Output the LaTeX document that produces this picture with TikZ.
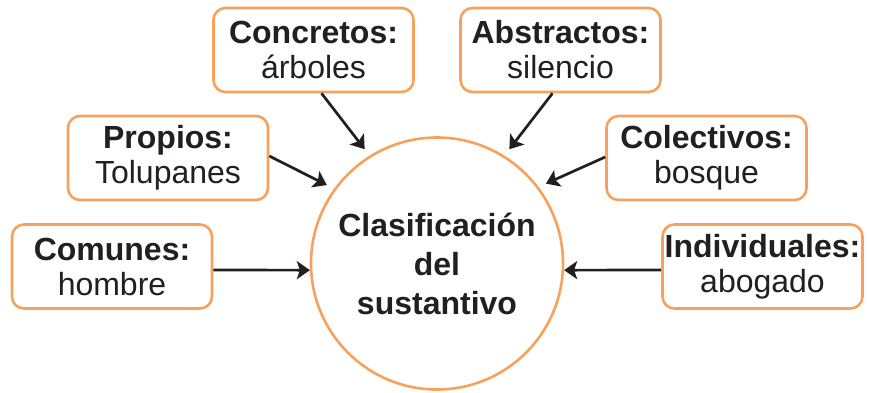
\documentclass[tikz,border=0pt]{standalone}
\usepackage{fontspec}
\setmainfont{Liberation Sans}
\usetikzlibrary{arrows.meta}
\definecolor{naranja}{RGB}{248,161,92}
\definecolor{texto}{RGB}{35,31,32}

\begin{document}
\begin{tikzpicture}[
    x=0.5pt, y=-0.5pt,
    caja/.style={draw=naranja, line width=1.3pt, rounded corners=6pt, fill=white, align=center, minimum width=100pt, minimum height=42pt, inner xsep=1pt, text=texto, font=\fontsize{16}{17.5}\selectfont},
    centro/.style={draw=naranja, line width=1.3pt, circle, minimum size=126pt, align=center, text=texto, font=\fontsize{16}{19.5}\selectfont\bfseries},
    flecha/.style={draw=texto, line width=1.35pt, -{Stealth[length=6.5pt, width=9pt, inset=1.5pt]}}
]
\useasboundingbox (0,0) rectangle (870,392);

% Nodes
\node[centro] (clas) at (437,263.5) {Clasificación\\del\\sustantivo};

\node[caja] (concretos) at (313.5,50) {\textbf{Concretos:}\\árboles};
\node[caja] (abstractos) at (560.5,50) {\textbf{Abstractos:}\\silencio};
\node[caja] (propios) at (168,158) {\textbf{Propios:}\\Tolupanes};
\node[caja] (colectivos) at (706.5,158) {\textbf{Colectivos:}\\bosque};
\node[caja] (comunes) at (112,266.5) {\textbf{Comunes:}\\hombre};
\node[caja] (individuales) at (762.5,266.5) {\textbf{Individuales:}\\abogado};

% Connections
\draw[flecha, shorten >=4pt] ([xshift=4pt]concretos.south) -- (clas.122);
\draw[flecha, shorten >=4pt] ([xshift=-4pt]abstractos.south) -- (clas.58);
\draw[flecha, shorten >=4pt] ([yshift=1pt]propios.east) -- (clas.144);
\draw[flecha, shorten >=4pt] ([yshift=0.5pt]colectivos.west) -- (clas.37);
\draw[flecha] ([yshift=-1.75pt]comunes.east) -- (clas.183);
\draw[flecha] ([yshift=-1.75pt]individuales.west) -- (clas.357);

\end{tikzpicture}
\end{document}
